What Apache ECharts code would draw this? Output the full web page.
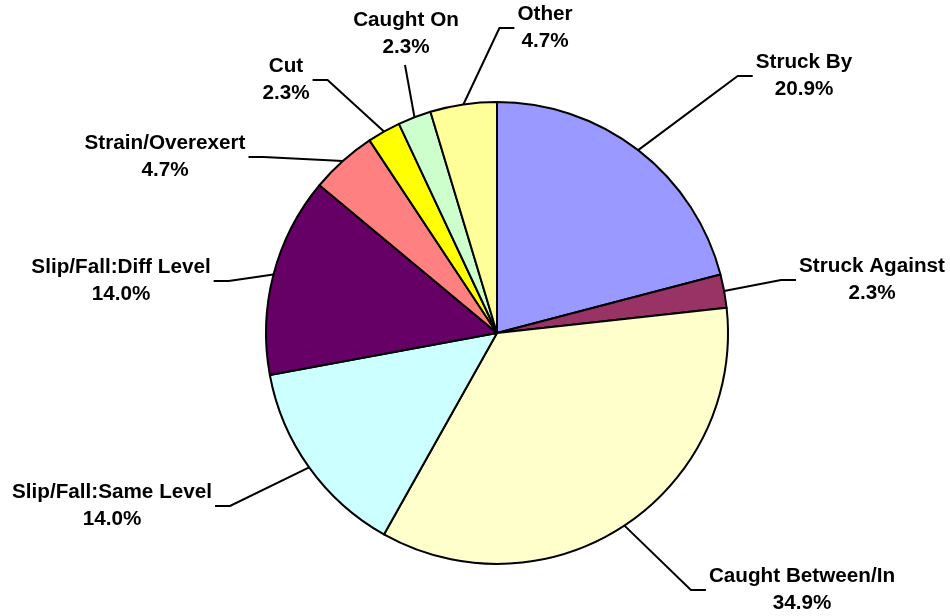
<!DOCTYPE html>
<html>
<head>
<meta charset="utf-8">
<script src="https://cdn.jsdelivr.net/npm/echarts@6/dist/echarts.min.js"></script>
<style>
html,body{margin:0;padding:0;background:#fff;}
#chart{width:950px;height:616px;}
</style>
</head>
<body>
<div id="chart"></div>
<script>
// ---- data ----
var categories = ['Struck By','Struck Against','Caught Between/In','Slip/Fall:Same Level','Slip/Fall:Diff Level','Strain/Overexert','Cut','Caught On','Other'];
var counts = [9, 1, 15, 6, 6, 2, 1, 1, 2];
var colors = ['#9999FF','#993366','#FFFFCC','#CCFFFF','#660066','#FF8080','#FFFF00','#CCFFCC','#FFFF99'];

// ---- label layout (positions only) ----
// [centerX, centerY, side] side: 'r' label right of line, 'l' label left of line, 'b' line attaches below label
var labelPos = [
  [804, 76, 'r'],
  [872, 280, 'r'],
  [802, 590, 'r'],
  [112, 506, 'l'],
  [121, 281, 'l'],
  [165, 157, 'l'],
  [286, 80, 'l'],
  [406, 34, 'b'],
  [545, 28, 'r']
];

var total = counts.reduce(function(a,b){return a+b;},0);
var data = categories.map(function(c,i){
  return {name:c, value:counts[i], itemStyle:{color:colors[i]}};
});

var chart = echarts.init(document.getElementById('chart'), null, {renderer:'canvas'});
chart.setOption({
  backgroundColor:'#fff',
  animation:false,
  series:[{
    type:'pie',
    center:[497,333],
    radius:231,
    startAngle:90,
    clockwise:true,
    avoidLabelOverlap:false,
    itemStyle:{borderColor:'#000', borderWidth:2},
    emphasis:{disabled:true},
    label:{
      show:true,
      position:'outside',
      color:'#000',
      fontFamily:'"Liberation Sans", Arial, sans-serif',
      fontWeight:'bold',
      fontSize:20.7,
      lineHeight:27,
      align:'center',
      formatter:function(p){
        return p.name + '\n' + (p.value/total*100).toFixed(1) + '%';
      }
    },
    labelLine:{show:true, length:10, length2:10, lineStyle:{color:'#000', width:2}},
    labelLayout:function(params){
      var lp = labelPos[params.dataIndex];
      var w = params.labelRect.width, h = params.labelRect.height;
      var cx = lp[0], cy = lp[1];
      var start = params.labelLinePoints ? params.labelLinePoints[0] : [cx, cy];
      var pts;
      if (lp[2] === 'r') {
        var ex = cx - w/2 - 3;
        pts = [start, [ex-15, cy], [ex, cy]];
      } else if (lp[2] === 'l') {
        var ex2 = cx + w/2 + 3;
        pts = [start, [ex2+15, cy], [ex2, cy]];
      } else {
        var ey = cy + h/2 + 4;
        pts = [start, [cx-1, ey], [cx-1, ey]];
      }
      return {x:cx, y:cy, align:'center', verticalAlign:'middle', labelLinePoints:pts};
    },
    data:data
  }]
});
</script>
</body>
</html>
